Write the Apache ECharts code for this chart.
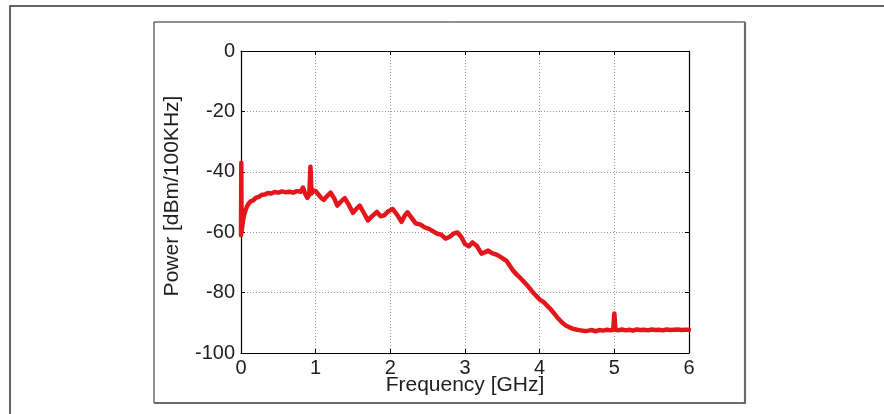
<!DOCTYPE html>
<html>
<head>
<meta charset="utf-8">
<script src="https://cdn.jsdelivr.net/npm/echarts@6/dist/echarts.min.js"></script>
<style>
html,body{margin:0;padding:0;background:#fff;}
#chart{width:884px;height:414px;}
</style>
</head>
<body>
<div id="chart"></div>
<script>
var xTicks = [0, 1, 2, 3, 4, 5, 6];
var yTicks = [0, -20, -40, -60, -80, -100];
var xTitle = 'Frequency [GHz]';
var yTitle = 'Power [dBm/100KHz]';

var freq = [0, 0.004, 0.008, 0.015, 0.025, 0.04, 0.06, 0.08, 0.1, 0.13, 0.16, 0.2, 0.24, 0.28, 0.32, 0.36, 0.4, 0.45, 0.5, 0.55, 0.6, 0.65, 0.7, 0.75, 0.8, 0.83, 0.86, 0.89, 0.915, 0.93, 0.945, 0.97, 1.0, 1.04, 1.08, 1.11, 1.15, 1.2, 1.25, 1.29, 1.34, 1.39, 1.44, 1.5, 1.54, 1.59, 1.64, 1.7, 1.76, 1.82, 1.87, 1.92, 1.97, 2.03, 2.09, 2.15, 2.19, 2.23, 2.28, 2.34, 2.4, 2.46, 2.52, 2.58, 2.63, 2.68, 2.74, 2.79, 2.85, 2.9, 2.95, 3.0, 3.05, 3.1, 3.16, 3.22, 3.27, 3.31, 3.36, 3.42, 3.47, 3.52, 3.56, 3.6, 3.65, 3.7, 3.75, 3.8, 3.85, 3.9, 3.95, 4.0, 4.05, 4.1, 4.15, 4.2, 4.25, 4.3, 4.35, 4.4, 4.45, 4.5, 4.55, 4.6, 4.65, 4.7, 4.75, 4.8, 4.85, 4.9, 4.95, 4.985, 5.0, 5.015, 5.05, 5.1, 5.15, 5.2, 5.25, 5.3, 5.35, 5.4, 5.45, 5.5, 5.55, 5.6, 5.65, 5.7, 5.75, 5.8, 5.85, 5.9, 5.95, 6.0];
var power = [-61, -37, -60, -58.5, -56.5, -54.5, -52.8, -51.5, -50.6, -49.8, -49.5, -48.6, -48.3, -47.6, -47.5, -47, -47.2, -46.7, -46.9, -46.5, -46.8, -46.6, -46.9, -46.4, -46.6, -45.2, -47.3, -48.6, -47.6, -38.3, -47.2, -46.2, -46.4, -47.6, -48.8, -49.3, -48.1, -46.9, -48.9, -51.2, -49.8, -48.7, -50.8, -53.6, -52.4, -51.2, -53.4, -56.1, -54.6, -53.3, -54.7, -54.4, -53.1, -52.3, -54.2, -56.6, -54.6, -53.4, -55.1, -57.1, -57.4, -58.4, -58.9, -59.8, -60.5, -60.8, -62.1, -61.6, -60.4, -60.1, -61.6, -63.9, -64.7, -63.4, -64.6, -67.1, -66.6, -66.1, -66.9, -67.4, -68.1, -68.9, -69.6, -71.1, -72.9, -74.2, -75.4, -76.7, -78.1, -79.6, -81.0, -82.3, -83.1, -84.3, -85.6, -87.1, -88.6, -89.9, -90.9, -91.5, -92.0, -92.3, -92.5, -92.7, -92.6, -92.4, -92.8, -92.4, -92.6, -92.3, -92.5, -92.3, -86.9, -92.3, -92.5, -92.2, -92.5, -92.3, -92.6, -92.2, -92.4, -92.3, -92.5, -92.2, -92.4, -92.3, -92.5, -92.2, -92.4, -92.3, -92.2, -92.4, -92.3, -92.3];

var seriesData = freq.map(function (f, i) { return [f, power[i]]; });

var FONT = 'Liberation Sans';
var TXT = '#1e1e1e';
var gridLine = { show: true, lineStyle: { color: '#9a9a9a', type: [1, 2], width: 1 } };

var chart = echarts.init(document.getElementById('chart'), null, { renderer: 'canvas' });
chart.setOption({
  animation: false,
  backgroundColor: '#ffffff',
  grid: { left: 241, top: 51, width: 448, height: 302, containLabel: false },
  xAxis: [{
    type: 'value', min: xTicks[0], max: xTicks[xTicks.length - 1], interval: 1, position: 'bottom',
    axisLine: { show: true, onZero: false, lineStyle: { color: '#000', width: 1.2 } },
    axisTick: { show: true, inside: true, length: 4, lineStyle: { color: '#000' } },
    axisLabel: { show: true, margin: 5, color: TXT, fontFamily: FONT, fontSize: 20 },
    splitLine: gridLine
  }, {
    type: 'value', min: xTicks[0], max: xTicks[xTicks.length - 1], interval: 1, position: 'top',
    axisLine: { show: true, onZero: false, lineStyle: { color: '#000', width: 1.2 } },
    axisTick: { show: true, inside: true, length: 4, lineStyle: { color: '#000' } },
    axisLabel: { show: false }, splitLine: { show: false }
  }],
  yAxis: [{
    type: 'value', min: yTicks[yTicks.length - 1], max: yTicks[0], interval: 20, position: 'left',
    axisLine: { show: true, onZero: false, lineStyle: { color: '#000', width: 1.2 } },
    axisTick: { show: true, inside: true, length: 4, lineStyle: { color: '#000' } },
    axisLabel: { show: true, margin: 6, color: TXT, fontFamily: FONT, fontSize: 20 },
    splitLine: gridLine
  }, {
    type: 'value', min: yTicks[yTicks.length - 1], max: yTicks[0], interval: 20, position: 'right',
    axisLine: { show: true, onZero: false, lineStyle: { color: '#000', width: 1.2 } },
    axisTick: { show: true, inside: true, length: 4, lineStyle: { color: '#000' } },
    axisLabel: { show: false }, splitLine: { show: false }
  }],
  series: [{
    type: 'line', xAxisIndex: 0, yAxisIndex: 0,
    data: seriesData, showSymbol: false, symbol: 'none', clip: true,
    lineStyle: { color: '#e3171b', width: 4.5, join: 'round', cap: 'round' },
    z: 5
  }],
  graphic: [
    { type: 'polyline', silent: true, z: 0,
      shape: { points: [[10, 420], [10, 6], [890, 6]] },
      style: { stroke: '#333', lineWidth: 1.5, fill: null } },
    { type: 'polyline', silent: true, z: 0,
      shape: { points: [[154, 403], [154, 22], [745, 22]] },
      style: { stroke: '#222', lineWidth: 1, fill: null } },
    { type: 'polyline', silent: true, z: 0,
      shape: { points: [[745, 22], [745, 403], [154, 403]] },
      style: { stroke: '#6a6a6a', lineWidth: 2.2, fill: null } },
    { type: 'text', silent: true, z: 10,
      x: 465, y: 385,
      style: { text: xTitle, fill: TXT, font: '21px "Liberation Sans"', align: 'center', verticalAlign: 'middle' } },
    { type: 'text', silent: true, z: 10,
      x: 172, y: 196, rotation: Math.PI / 2,
      style: { text: yTitle, fill: TXT, font: '21px "Liberation Sans"', align: 'center', verticalAlign: 'middle' } }
  ]
});
</script>
</body>
</html>
